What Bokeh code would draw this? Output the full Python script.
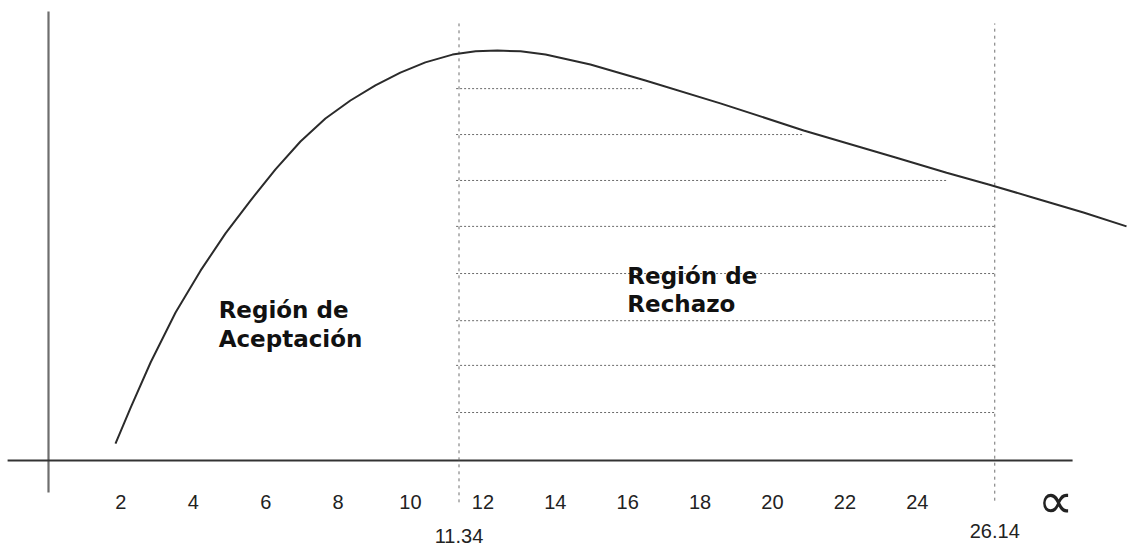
from bokeh.plotting import figure
from bokeh.models import Range1d, ColumnDataSource
from bokeh.core.properties import value
from bokeh.embed import file_html
from bokeh.resources import INLINE

# ---- data ----
curve_x = [1.85, 2.27, 2.82, 3.51, 4.20, 4.89, 5.58, 6.27, 6.96, 7.65, 8.34, 9.03,
           9.72, 10.41, 11.16, 11.80, 12.40, 13.04, 13.73, 14.97, 16.49, 18.56,
           20.86, 23.40, 24.81, 25.97, 27.21, 28.59, 29.78]
curve_y = [0.0041, 0.0129, 0.0239, 0.0361, 0.0463, 0.0554, 0.0634, 0.0710, 0.0778,
           0.0834, 0.0878, 0.0915, 0.0946, 0.0971, 0.0990, 0.0998, 0.1000, 0.0998,
           0.0990, 0.0966, 0.0927, 0.0871, 0.0805, 0.0739, 0.0702, 0.0673, 0.0641,
           0.0605, 0.0571]

tick_values = [2, 4, 6, 8, 10, 12, 14, 16, 18, 20, 22, 24]
tick_labels = [str(v) for v in tick_values]

critical_values = [11.34, 26.14]
critical_labels = ["11.34", "26.14"]

hatch_y = [0.0907, 0.0795, 0.0683, 0.0571, 0.0456, 0.0341, 0.0232, 0.0117]
hatch_end = [16.44, 20.86, 24.80, 26.14, 26.14, 26.14, 26.14, 26.14]

# ---- figure ----
W, H = 1127, 549
p = figure(width=W, height=H, output_backend="svg", toolbar_location=None,
           x_axis_location=None, y_axis_location=None, min_border=0,
           x_range=Range1d(-1.326, 29.807), y_range=Range1d(-0.021707, 0.112195))
p.outline_line_color = None
p.xgrid.visible = False
p.ygrid.visible = False
p.background_fill_color = "white"
p.border_fill_color = "white"

# axes drawn as lines
p.segment(x0=[0], y0=[-0.0078], x1=[0], y1=[0.1095], line_color="#6e6e6e", line_width=2.2)
p.segment(x0=[-1.13], y0=[0], x1=[28.29], y1=[0], line_color="#333333", line_width=2)

# critical value lines (dotted verticals)
p.segment(x0=critical_values, x1=critical_values,
          y0=[-0.0102, -0.0098], y1=[0.1066, 0.1066],
          line_color="#6f6f6f", line_width=1, line_dash="3 4")

# hatch lines of rejection region
p.segment(x0=[11.26] * len(hatch_y), x1=hatch_end, y0=hatch_y, y1=hatch_y,
          line_color="#6a6a6a", line_width=1, line_dash="2 2")

# density curve
p.line(curve_x, curve_y, line_color="#2b2b2b", line_width=2)

# tick labels
tick_src = ColumnDataSource(dict(x=tick_values, y=[-0.0102] * len(tick_values), t=tick_labels))
p.text(x="x", y="y", text="t", source=tick_src, text_align="center", text_baseline="middle",
       text_font=value("Liberation Sans Narrow, Liberation Sans"), text_font_size="20px",
       text_color="#222222")

crit_src = ColumnDataSource(dict(x=critical_values, y=[-0.0183, -0.0171], t=critical_labels))
p.text(x="x", y="y", text="t", source=crit_src, text_align="center", text_baseline="middle",
       text_font=value("Liberation Sans Narrow, Liberation Sans"), text_font_size="20px",
       text_color="#222222")

# alpha-like symbol at the end of axis
p.text(x=[27.82], y=[-0.0098], text=["\u221d"], text_align="center", text_baseline="middle",
       text_font=value("DejaVu Sans"), text_font_size="50px", text_color="#222222")

# region labels
p.text(x=[4.70, 4.70], y=[(460 - 309) / 4100, (460 - 338) / 4100],
       text=["Región de", "Aceptación"], text_align="left", text_baseline="alphabetic",
       text_font=value("DejaVu Sans"), text_font_style="bold", text_font_size="23px",
       text_color="#111111")
p.text(x=[15.99, 15.99], y=[(460 - 275) / 4100, (460 - 303) / 4100],
       text=["Región de", "Rechazo"], text_align="left", text_baseline="alphabetic",
       text_font=value("DejaVu Sans"), text_font_style="bold", text_font_size="23px",
       text_color="#111111")

open("out.html", "w").write(file_html(p, INLINE))
